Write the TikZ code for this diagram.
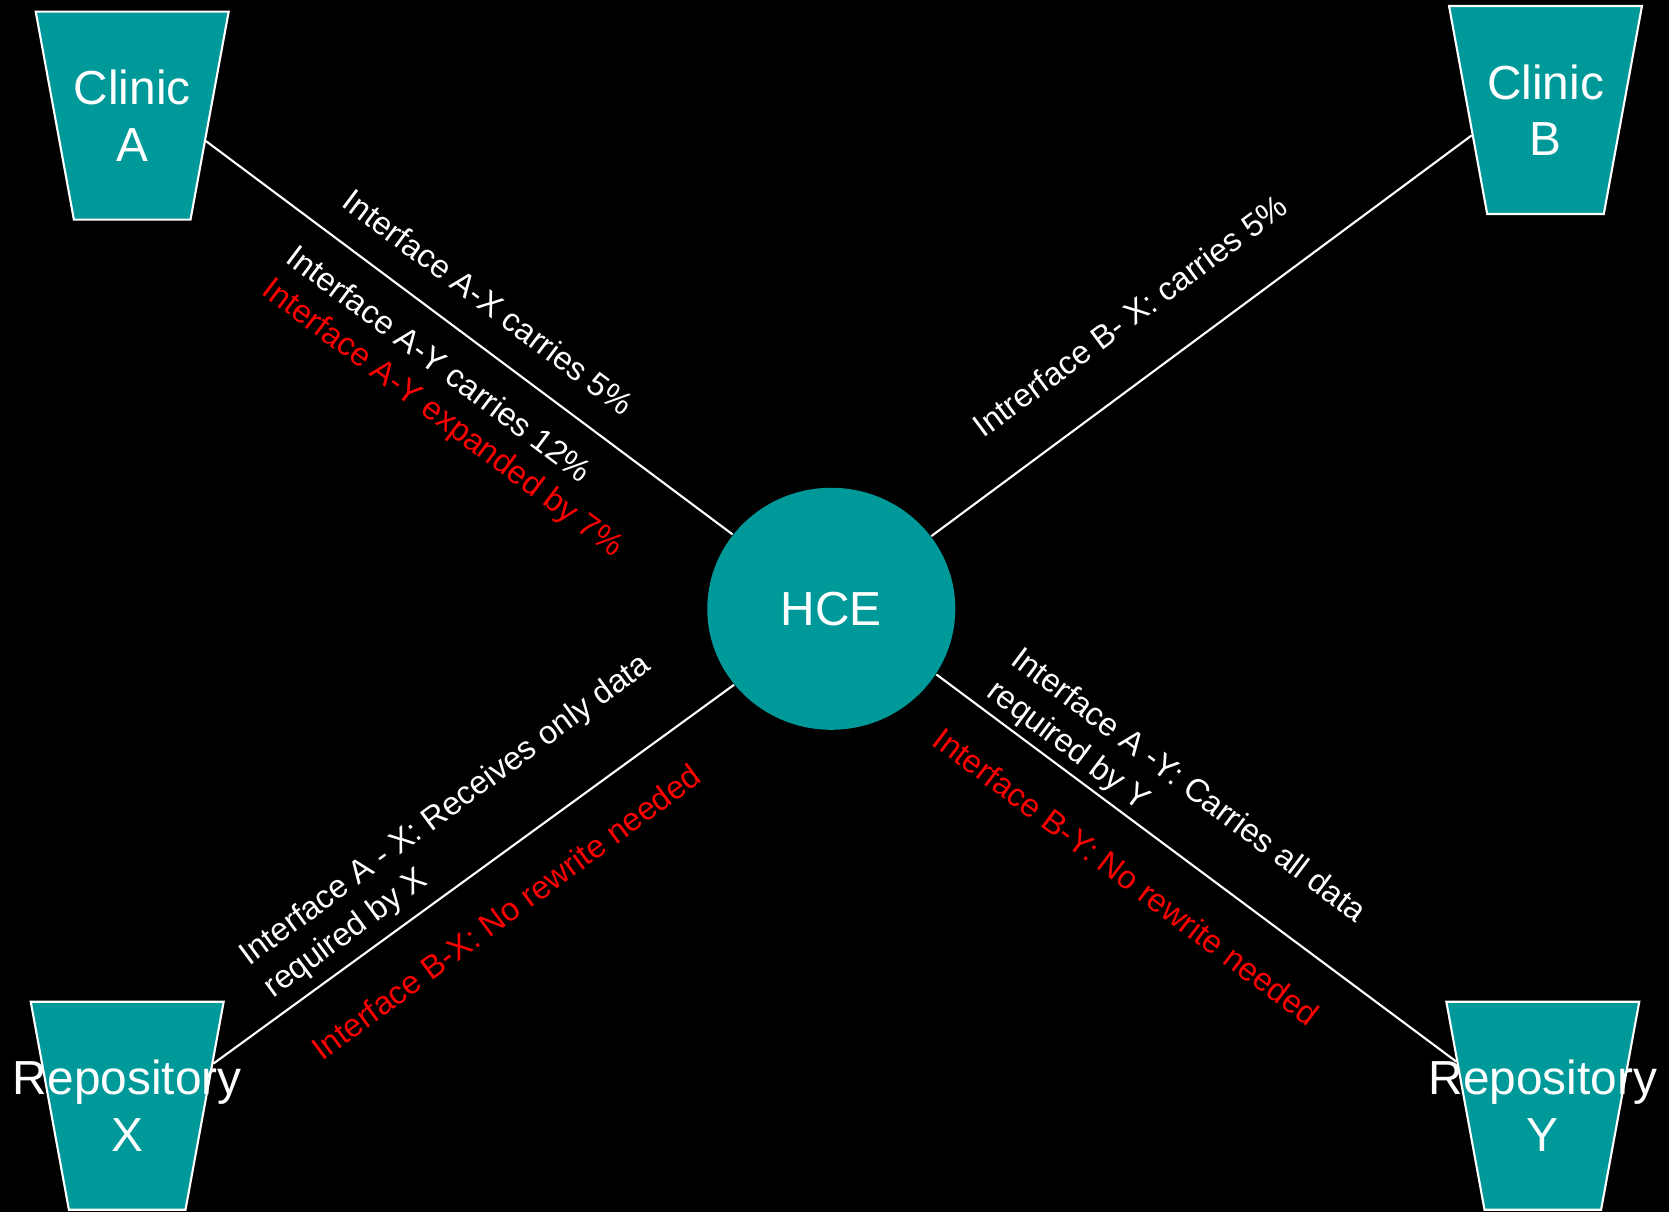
\documentclass[tikz,border=0pt]{standalone}
\usepackage{fontspec}
\setmainfont{Liberation Sans}
\usepackage{tikz}
\usetikzlibrary{shapes.geometric}

\definecolor{hceteal}{RGB}{0,153,153}

\begin{document}
\begin{tikzpicture}[x=0.1mm, y=-0.1mm,
		store/.style = {trapezium, trapezium angle=79.6, shape border rotate=180,
			inner xsep=5.83mm, inner ysep=10.4mm, fill=hceteal, draw=white, line width=0.6pt},
		hub/.style = {ellipse, minimum width=24.8mm, minimum height=24.2mm, inner sep=0pt, fill=hceteal},
		boxtxt/.style = {text=white, align=center, inner sep=0pt, font=\fontsize{13.6}{16.1}\selectfont},
		lbl/.style = {text=white, align=left, inner sep=0pt, font=\fontsize{9.25}{11.4}\selectfont},
		link/.style = {draw=white, line width=0.6pt},
	]
	\fill[black] (0,0) rectangle (1669,1212);
	\useasboundingbox (0,0) rectangle (1669,1212);

	\node[hub, boxtxt] (hce) at (831.3,608.8) {HCE};

	\node[store] (cliA) at (132.2,115.7) {};
	\node[store] (cliB) at (1545.5,110) {};
	\node[store] (repX) at (127.2,1105.7) {};
	\node[store] (repY) at (1542.8,1105.7) {};

	\draw[link] (cliA.-19) -- (hce.143);
	\draw[link] (cliB.199) -- (hce.36);
	\draw[link] (hce.218) -- (repX.26);
	\draw[link] (hce.-32) -- (repY.153);

	\node[boxtxt] (cliAtxt) at (cliA) {Clinic\\A};
	\node[boxtxt] (cliBtxt) at (cliB) {Clinic\\B};
	\node[boxtxt] (repXtxt) at (repX) {Repository\\X};
	\node[boxtxt] (repYtxt) at (repY) {Repository\\Y};

	\node[lbl, rotate=-36.8] (lblAX) at (488.5,302) {Interface A-X carries 5\%};
	\node[lbl, rotate=-36.8] (lblAY) at (454,403) {Interface A-Y carries 12\%\\{\color{red}Interface A-Y expanded by 7\%}};
	\node[lbl, rotate=36.6] (lblBX) at (1130,316) {Intrerface B- X: carries 5\%};
	\node[lbl, rotate=36.4] (lblXA) at (458,827) {Interface A - X: Receives only data\\required by X};
	\node[lbl, text=red, rotate=36.4] (lblXB) at (506,912) {Interface B-X: No rewrite needed};
	\node[lbl, rotate=-36.9] (lblYA) at (1175.5,802.5) {Interface A -Y: Carries all data\\required by Y};
	\node[lbl, text=red, rotate=-36.9] (lblYB) at (1126.5,876.5) {Interface B-Y: No rewrite needed};

\end{tikzpicture}
\end{document}
